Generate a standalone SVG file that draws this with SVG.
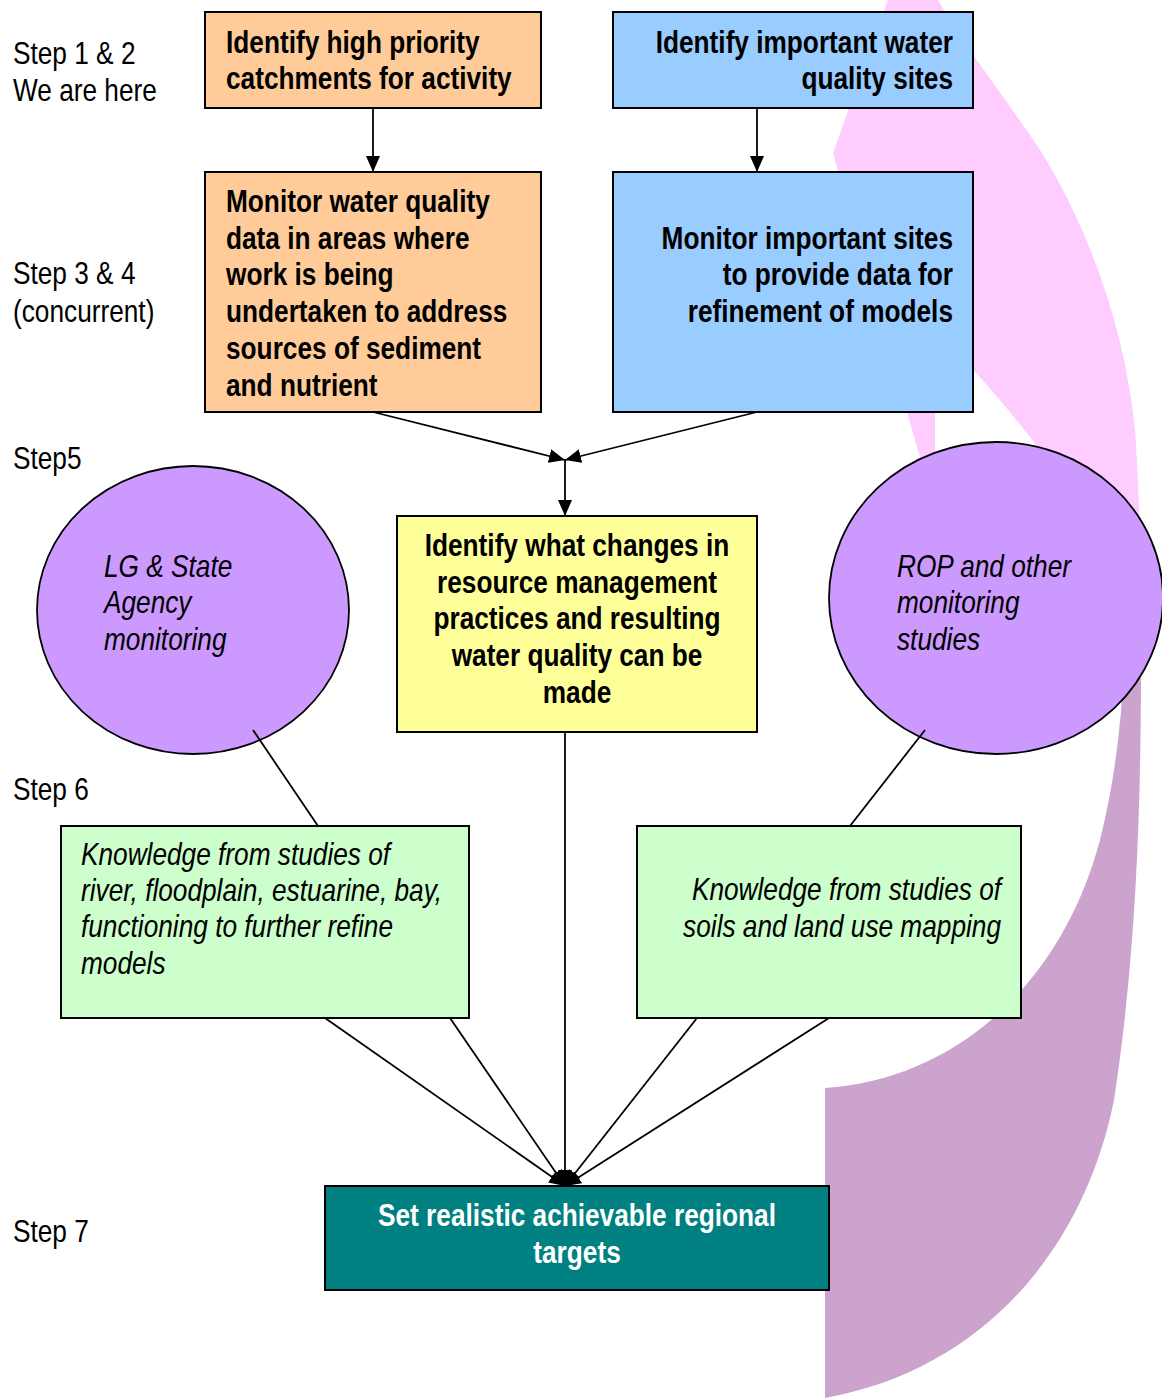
<svg xmlns="http://www.w3.org/2000/svg" width="1162" height="1399" viewBox="0 0 1162 1399">
<style>
.box{stroke:#000;stroke-width:2}
.circ{fill:#CC99FF;stroke:#000;stroke-width:1.8}
.b{font-family:"Liberation Sans",Arial,sans-serif;font-weight:bold;font-size:32px;fill:#000}
.it{font-family:"Liberation Sans",Arial,sans-serif;font-style:italic;font-size:32px;fill:#000}
.st{font-family:"Liberation Sans",Arial,sans-serif;font-size:32px;fill:#000}
.ln{stroke:#000;stroke-width:1.8;fill:none}
.ar{stroke:#000;stroke-width:1.8;fill:none;marker-end:url(#ah)}
</style>
<defs>
<marker id="ah" markerUnits="userSpaceOnUse" markerWidth="16" markerHeight="14" refX="16" refY="7" orient="auto">
<path d="M0,0 L16,7 L0,14 Z" fill="#000"/>
</marker>
</defs>
<rect width="1162" height="1399" fill="#fff"/>
<g id="ribbon">
<path d="M888 0 L938 0 C960 40 1000 90 1040 150 C1090 230 1125 330 1135 430 C1140 500 1141 580 1141 660 L1124 660 C1110 570 1070 490 1030 437 C1005 405 975 370 935 330 L935 510 L833 153 Z" fill="#FFCCFF"/>
<path d="M1124 660 L1141 660 C1141 800 1137 950 1114 1100 C1084 1250 982 1370 825 1398 L825 1088 C950 1080 1060 990 1100 840 C1115 780 1122 720 1124 660 Z" fill="#CCA3CC"/>
</g>
<g id="labels" transform="translate(13 0) scale(0.82 1)">
<text class="st" x="0" y="64">Step 1 &amp; 2</text>
<text class="st" x="0" y="101">We are here</text>
<text class="st" x="0" y="284">Step 3 &amp; 4</text>
<text class="st" x="0" y="322">(concurrent)</text>
<text class="st" x="0" y="469">Step5</text>
<text class="st" x="0" y="800">Step 6</text>
<text class="st" x="0" y="1242">Step 7</text>
</g>
<g id="n1">
<rect class="box" x="205" y="12" width="336" height="96" fill="#FFCC99"/>
<g transform="translate(226 0) scale(0.82 1)">
<text class="b" y="53">Identify high priority</text>
<text class="b" y="89">catchments for activity</text>
</g>
</g>
<g id="n2">
<rect class="box" x="613" y="12" width="360" height="96" fill="#99CCFF"/>
<g transform="translate(953 0) scale(0.82 1)" text-anchor="end">
<text class="b" y="53">Identify important water</text>
<text class="b" y="89">quality sites</text>
</g>
</g>
<g id="n3">
<rect class="box" x="205" y="172" width="336" height="240" fill="#FFCC99"/>
<g transform="translate(226 0) scale(0.82 1)">
<text class="b" y="212">Monitor water quality</text>
<text class="b" y="249">data in areas where</text>
<text class="b" y="285">work is being</text>
<text class="b" y="322">undertaken to address</text>
<text class="b" y="359">sources of sediment</text>
<text class="b" y="396">and nutrient</text>
</g>
</g>
<g id="n4">
<rect class="box" x="613" y="172" width="360" height="240" fill="#99CCFF"/>
<g transform="translate(953 0) scale(0.82 1)" text-anchor="end">
<text class="b" y="249">Monitor important sites</text>
<text class="b" y="285">to provide data for</text>
<text class="b" y="322">refinement of models</text>
</g>
</g>
<g id="n5">
<ellipse class="circ" cx="193" cy="610" rx="156" ry="144"/>
<g transform="translate(104 0) scale(0.82 1)">
<text class="it" y="577">LG &amp; State</text>
<text class="it" y="613">Agency</text>
<text class="it" y="650">monitoring</text>
</g>
</g>
<g id="n6">
<rect class="box" x="397" y="516" width="360" height="216" fill="#FFFF99"/>
<g transform="translate(577 0) scale(0.82 1)" text-anchor="middle">
<text class="b" y="556">Identify what changes in</text>
<text class="b" y="593">resource management</text>
<text class="b" y="629">practices and resulting</text>
<text class="b" y="666">water quality can be</text>
<text class="b" y="703">made</text>
</g>
</g>
<g id="n7">
<ellipse class="circ" cx="996" cy="598" rx="167" ry="156"/>
<g transform="translate(897 0) scale(0.82 1)">
<text class="it" y="577">ROP and other</text>
<text class="it" y="613">monitoring</text>
<text class="it" y="650">studies</text>
</g>
</g>
<g id="n8">
<rect class="box" x="61" y="826" width="408" height="192" fill="#CCFFCC"/>
<g transform="translate(81 0) scale(0.82 1)">
<text class="it" y="865">Knowledge from studies of</text>
<text class="it" y="901">river, floodplain, estuarine, bay,</text>
<text class="it" y="937">functioning to further refine</text>
<text class="it" y="974">models</text>
</g>
</g>
<g id="n9">
<rect class="box" x="637" y="826" width="384" height="192" fill="#CCFFCC"/>
<g transform="translate(1001 0) scale(0.82 1)" text-anchor="end">
<text class="it" y="900">Knowledge from studies of</text>
<text class="it" y="937">soils and land use mapping</text>
</g>
</g>
<g id="n10">
<rect class="box" x="325" y="1186" width="504" height="104" fill="#008080"/>
<g transform="translate(577 0) scale(0.82 1)" text-anchor="middle">
<text class="b" y="1226" style="fill:#fff">Set realistic achievable regional</text>
<text class="b" y="1263" style="fill:#fff">targets</text>
</g>
</g>
<g id="connectors">
<line class="ar" x1="373" y1="108" x2="373" y2="172"/>
<line class="ar" x1="757" y1="108" x2="757" y2="172"/>
<line class="ar" x1="373" y1="412" x2="565" y2="460"/>
<line class="ar" x1="757" y1="412" x2="565" y2="460"/>
<line class="ar" x1="565" y1="460" x2="565" y2="516"/>
<line class="ar" x1="565" y1="732" x2="565" y2="1186"/>
<line class="ln" x1="253" y1="730" x2="318" y2="826"/>
<line class="ln" x1="925" y1="730" x2="850" y2="826"/>
<line class="ar" x1="325" y1="1018" x2="565" y2="1186"/>
<line class="ar" x1="450" y1="1018" x2="565" y2="1186"/>
<line class="ar" x1="697" y1="1018" x2="565" y2="1186"/>
<line class="ar" x1="829" y1="1018" x2="565" y2="1186"/>
</g>
</svg>
